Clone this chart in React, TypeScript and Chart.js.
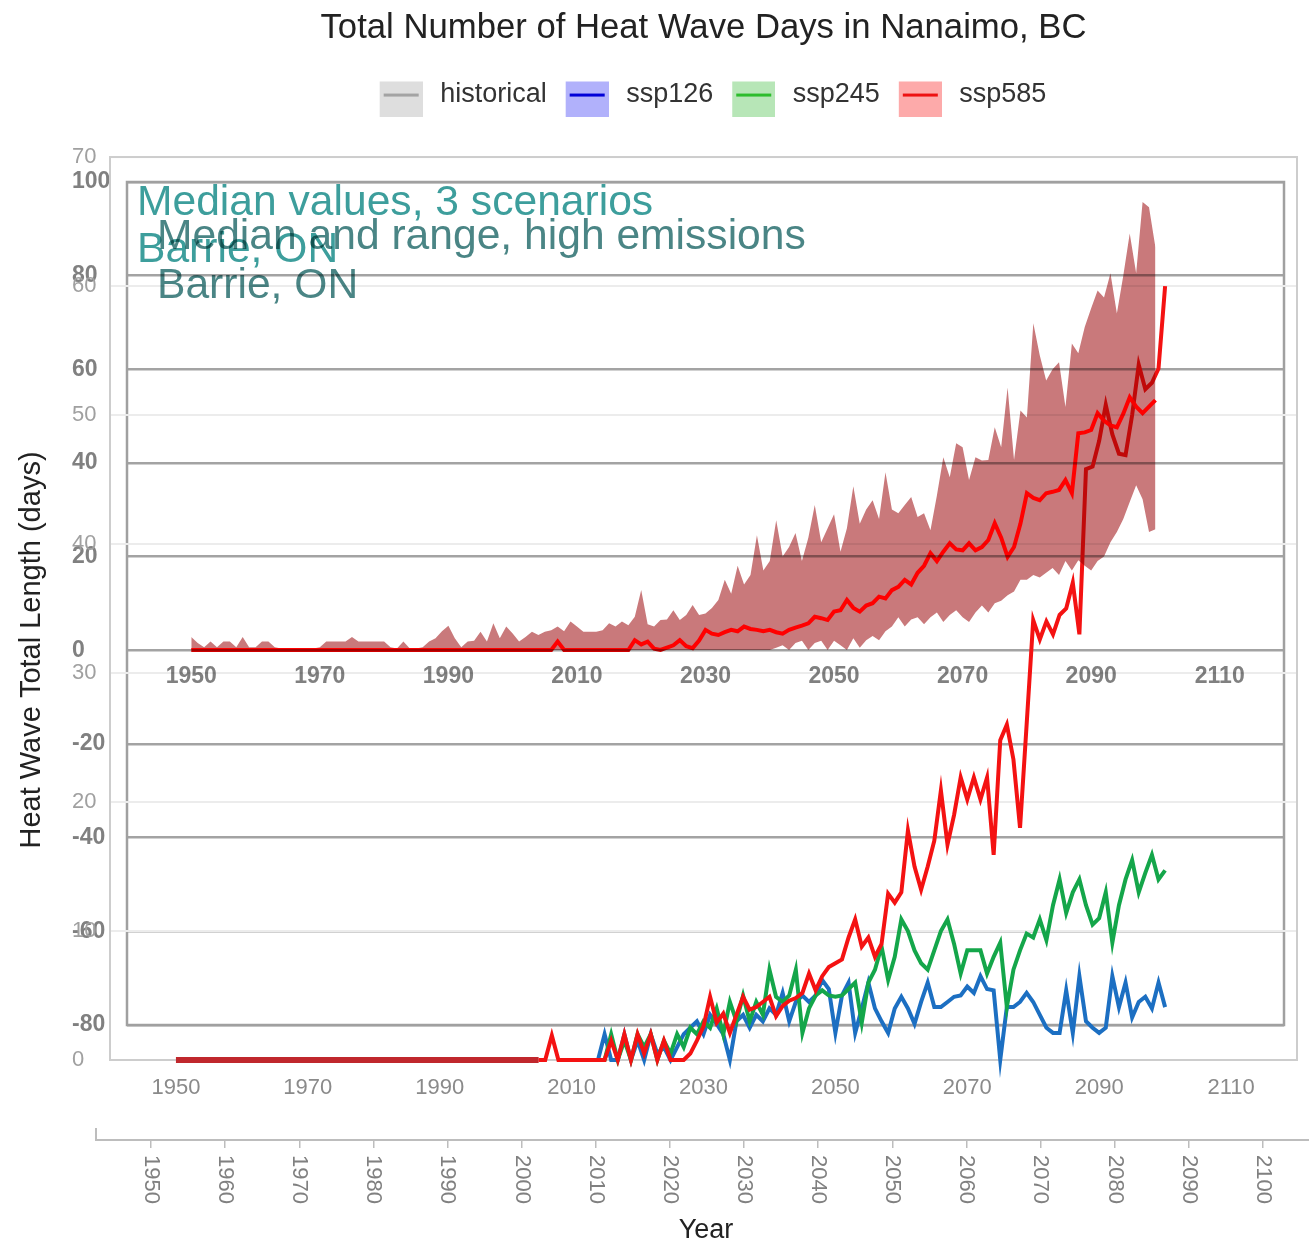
import React, { useEffect, useRef } from 'react';
import { Chart, registerables } from 'chart.js';

Chart.register(...registerables);

const FONT = "'Liberation Sans', Arial, Helvetica, sans-serif";
Chart.defaults.font.family = FONT;

// ---------- text ----------
const TITLE = 'Total Number of Heat Wave Days in Nanaimo, BC';
const Y_TITLE = 'Heat Wave Total Length (days)';
const X_TITLE = 'Year';
const TEXT_3SCEN = ['Median values, 3 scenarios', 'Barrie, ON'];
const TEXT_RANGE = ['Median and range, high emissions', 'Barrie, ON'];

// ---------- legend ----------
const LEGEND_LABELS = ['historical', 'ssp126', 'ssp245', 'ssp585'];
const LEGEND_BOX = ['#dedede', '#b1b1fb', '#b7e6b7', '#fdaaaa'];
const LEGEND_LINE = ['#a3a3a3', '#0000d8', '#2cbd2c', '#ee1111'];

// ---------- tick labels ----------
const X_TICKS_20 = [1950, 1970, 1990, 2010, 2030, 2050, 2070, 2090, 2110];
const X_TICKS_10 = [1950, 1960, 1970, 1980, 1990, 2000, 2010, 2020, 2030, 2040, 2050, 2060, 2070, 2080, 2090, 2100];

// ---------- Nanaimo medians (days) ----------
const HIST_START = 1950;
const HIST = [
  0, 0, 0, 0, 0, 0, 0, 0, 0, 0,
  0, 0, 0, 0, 0, 0, 0, 0, 0, 0,
  0, 0, 0, 0, 0, 0, 0, 0, 0, 0,
  0, 0, 0, 0, 0, 0, 0, 0, 0, 0,
  0, 0, 0, 0, 0, 0, 0, 0, 0, 0,
  0, 0, 0, 0, 0, 0,
];

const SSP585_START = 2005;
const SSP585 = [
  0, 0, 1.9, 0, 0, 0, 0, 0, 0, 0,
  0, 1.5, 0, 2, 0, 2, 0.5, 2, 0, 1.5,
  0, 0, 0, 0.5, 1.5, 2.6, 4.9, 2.9, 3.6, 2.1,
  3.5, 4.9, 3.9, 4.1, 4.5, 4.9, 3.4, 4.2, 4.6, 4.8,
  5.2, 6.7, 5.4, 6.5, 7.2, 7.5, 7.8, 9.5, 10.9, 8.8,
  9.5, 8, 9, 12.9, 12.2, 13, 17.8, 15, 13.2, 15,
  17, 20.9, 16.7, 19, 21.9, 20.2, 21.9, 20.2, 21.9, 15.9,
  24.8, 26, 23.3, 18, 26, 34.1, 32.6, 34, 33, 34.5,
  35, 37, 33, 45.8, 46, 48, 50.8, 48.5, 47, 46.9,
  50, 53.9, 52, 52.5, 53.6, 60,
];

const SSP_START = 2014;
const SSP126 = [
  0,
  2, 0, 0, 2, 0, 1.5, 0, 2, 0.5, 1,
  0, 1, 2, 2.5, 3, 2, 3.5, 2.8, 2, 0,
  3, 3.5, 2.5, 3.5, 3, 4, 3.5, 5.2, 3, 4.5,
  5, 4.5, 5, 6.2, 5.5, 2.1, 5, 6, 2.1, 4,
  6, 4, 3, 2.1, 4, 4.9, 4, 2.8, 4.5, 6,
  4.1, 4.1, 4.5, 4.9, 5, 5.7, 5.2, 6.5, 5.5, 5.4,
  0, 4.1, 4.1, 4.5, 5.2, 4.5, 3.5, 2.5, 2.1, 2.1,
  5.4, 2.1, 6.5, 3, 2.5, 2.1, 2.5, 6.5, 4.1, 6,
  3.3, 4.5, 4.9, 4, 6, 4.1,
];
const SSP245 = [
  0,
  0, 2, 0, 1.5, 0, 2, 1, 2, 0, 1.5,
  0.5, 2, 1, 2.5, 2, 3, 2.5, 4, 2, 4.5,
  3, 5, 3, 4.5, 3.5, 7, 4.9, 4.5, 5, 7,
  2.1, 4, 5, 5.4, 5, 4.9, 5, 5.5, 6, 2.9,
  6, 7, 8.8, 6.2, 8, 10.9, 10, 8.5, 7.5, 7,
  8.5, 10, 10.9, 9, 6.7, 8.5, 8.5, 8.5, 6.7, 8,
  9.1, 4.1, 7, 8.5, 9.8, 9.5, 10.9, 9.3, 12, 14,
  11.4, 13, 14, 12, 10.5, 11, 13, 9.1, 12, 14,
  15.5, 13, 14.5, 15.9, 14, 14.7,
];

// ---------- Barrie, high emissions: median and range ----------
const RANGE_START = 1950;
const RANGE_LOW = [
  0, 0, 0, 0, 0, 0, 0, 0, 0, 0,
  0, 0, 0, 0, 0, 0, 0, 0, 0, 0,
  0, 0, 0, 0, 0, 0, 0, 0, 0, 0,
  0, 0, 0, 0, 0, 0, 0, 0, 0, 0,
  0, 0, 0, 0, 0, 0, 0, 0, 0, 0,
  0, 0, 0, 0, 0, 0, 0, 0, 0, 0,
  0, 0, 0, 0, 0, 0, 0, 0, 0, 0,
  0, 0, 0, 0, 0, 0, 0, 0, 0, 0,
  0, 0, 0, 0, 0, 0, 0, 0, 0, 0,
  0, 0.5, 1, 0, 1.5, 2, 0, 1.5, 2, 0,
  2, 1, 0, 2.5, 0.5, 2.1, 3, 2.1, 4, 5,
  7, 5, 6.5, 7, 5.5, 7, 8, 6, 7.5, 8.5,
  7, 6, 8, 9.5, 8, 10, 10.5, 11.7, 12.5, 15,
  15, 16, 15.5, 16.5, 17.5, 16, 19, 17, 19.2, 18,
  17, 19, 20, 23, 25.2, 28, 31.6, 35.2, 32.2, 25.2,
  25.8,
];
const RANGE_HIGH = [
  2.8, 1.5, 0.6, 1.8, 0.6, 1.8, 1.8, 0.6, 2.8, 0.6,
  0.6, 1.8, 1.8, 0.6, 0.3, 0.3, 0.3, 0.3, 0.3, 0.3,
  0.6, 1.8, 1.8, 1.8, 1.8, 2.8, 1.8, 1.8, 1.8, 1.8,
  1.8, 0.6, 0.3, 1.8, 0.3, 0.3, 0.6, 1.8, 2.5, 4,
  5.2, 2.5, 0.6, 1.8, 2, 3.9, 1.8, 5.7, 2.5, 5,
  3.5, 1.8, 2.8, 3.9, 3.2, 3.9, 4.2, 5, 4, 6.1,
  5, 3.9, 3.9, 3.9, 4.2, 5.7, 5, 6.1, 5.3, 7.1,
  12.8, 5.5, 5, 6.4, 6.5, 8.5, 6.4, 7.5, 9.6, 7.5,
  7.8, 9, 10.7, 15, 12, 18, 14, 16, 24.5, 17,
  19, 27.7, 20, 22, 25, 19, 24, 31, 23, 26,
  29, 21, 26, 35, 27, 30, 32, 28, 38, 30,
  29.2, 31, 32.7, 28.4, 29.2, 25.6, 33, 41.2, 36.9, 44.2,
  43.3, 36.3, 41.2, 40.5, 40.6, 47.6, 43.3, 56.1, 40.6, 51.2,
  49.7, 69.8, 63, 57.6, 60, 61.5, 51.9, 65.5, 63.4, 69,
  73, 76.8, 75.3, 80.5, 71.9, 80, 89, 80.5, 95.7, 94.6,
  86,
];
const RANGE_MED = [
  0, 0, 0, 0, 0, 0, 0, 0, 0, 0,
  0, 0, 0, 0, 0, 0, 0, 0, 0, 0,
  0, 0, 0, 0, 0, 0, 0, 0, 0, 0,
  0, 0, 0, 0, 0, 0, 0, 0, 0, 0,
  0, 0, 0, 0, 0, 0, 0, 0, 0, 0,
  0, 0, 0, 0, 0, 0, 0, 1.8, 0, 0,
  0, 0, 0, 0, 0, 0, 0, 0, 0, 2.1,
  1.2, 1.8, 0.3, 0, 0.5, 1, 2.1, 0.8, 0.4, 2,
  4.3, 3.5, 3.2, 3.8, 4.3, 4, 5, 4.5, 4.3, 4,
  4.3, 3.8, 3.5, 4.3, 4.8, 5.2, 5.7, 7.1, 6.8, 6.4,
  8.2, 8.5, 10.7, 9, 8.2, 9.5, 10, 11.4, 11, 12.8,
  13.5, 15, 14, 16.5, 18, 20.7, 19, 21, 22.8, 21.5,
  21.3, 22.8, 21.3, 22, 23.5, 27.1, 24, 19.9, 22, 27,
  33.5, 32.5, 32, 33.5, 33.8, 34.2, 36.3, 33.5, 46.3, 46.5,
  47, 50.6, 49, 48, 47.6, 50.5, 54, 52, 50.6, 52,
  53.4,
];

// ---------- helpers ----------
const toPoints = (start: number, values: number[]) => values.map((v, i) => ({ x: start + i, y: v }));
const setTicks = (list: number[]) => (s: any) => { s.ticks = list.map((v) => ({ value: v })); };
const asText = (v: any) => String(v);

// legend swatch: 43x43 box (drawn in the right part of a 58px wide image) with a line across
function legendIcon(box: string, line: string) {
  const c = document.createElement('canvas');
  c.width = 58; c.height = 43;
  const g = c.getContext('2d') as CanvasRenderingContext2D;
  g.fillStyle = box; g.fillRect(15, 0, 43, 43);
  g.strokeStyle = line; g.lineWidth = 3;
  g.beginPath(); g.moveTo(19, 21.5); g.lineTo(54, 21.5); g.stroke();
  return c;
}

const framePlugin = (id: string, color: string, width: number) => ({
  id,
  beforeDatasetsDraw(chart: any) {
    const { ctx, chartArea: a } = chart;
    ctx.save();
    ctx.strokeStyle = color; ctx.lineWidth = width;
    ctx.strokeRect(a.left, a.top, a.right - a.left, a.bottom - a.top);
    ctx.restore();
  },
});

const cornerTextPlugin = (id: string, lines: string[], color: string, dx: number, ys: number[]) => ({
  id,
  afterDatasetsDraw(chart: any) {
    const { ctx, chartArea: a } = chart;
    ctx.save();
    ctx.fillStyle = color; ctx.font = `42.6px ${FONT}`;
    ctx.textAlign = 'left'; ctx.textBaseline = 'middle';
    lines.forEach((t, i) => ctx.fillText(t, a.left + dx, a.top + ys[i]));
    ctx.restore();
  },
});

const rotatedLabelsPlugin = {
  id: 'rotatedLabels',
  afterDraw(chart: any) {
    const s = chart.scales.x; const ctx = chart.ctx;
    ctx.save();
    ctx.fillStyle = '#808080'; ctx.font = `22px ${FONT}`;
    ctx.textAlign = 'left'; ctx.textBaseline = 'middle';
    s.ticks.forEach((t: any) => {
      const x = s.getPixelForValue(t.value);
      ctx.save(); ctx.translate(x, s.top + 15); ctx.rotate(Math.PI / 2);
      ctx.fillText(String(t.value), 0, 0); ctx.restore();
    });
    // short stub of the y axis
    const a = chart.chartArea;
    ctx.strokeStyle = '#bdbdbd'; ctx.lineWidth = 2;
    ctx.beginPath(); ctx.moveTo(a.left, a.bottom - 12); ctx.lineTo(a.left, a.bottom); ctx.stroke();
    ctx.restore();
  },
};

export default function App() {
  const refD = useRef<HTMLCanvasElement>(null);
  const refB = useRef<HTMLCanvasElement>(null);
  const refA = useRef<HTMLCanvasElement>(null);
  const refC = useRef<HTMLCanvasElement>(null);

  useEffect(() => {
    document.body.style.margin = '0';
    const charts: any[] = [];

    // D: year axis with rotated labels + y title
    charts.push(new Chart(refD.current as any, {
      type: 'line',
      data: { datasets: [] },
      options: {
        animation: false, responsive: false,
        layout: { padding: { top: 160, right: 14, bottom: 0, left: 0 } },
        plugins: { legend: { display: false }, tooltip: { enabled: false } },
        scales: {
          x: {
            type: 'linear', min: 1942.58, max: 2107.16,
            afterBuildTicks: setTicks(X_TICKS_10),
            afterFit: (s: any) => { s.height = 104; },
            ticks: { display: false },
            grid: { display: true, drawOnChartArea: false, drawTicks: true, tickLength: 8, color: '#bdbdbd', lineWidth: 1.5 },
            border: { display: true, color: '#bdbdbd', width: 2 },
            title: { display: true, text: X_TITLE, color: '#222', font: { size: 27, lineHeight: 1 }, padding: 0 },
          },
          y: {
            min: 0, max: 1,
            ticks: { display: false },
            grid: { display: false, drawTicks: false },
            border: { display: false },
            afterFit: (s: any) => { s.width = 96; },
            title: { display: true, text: Y_TITLE, color: '#222', font: { size: 29, lineHeight: 1.2 }, padding: { top: 14.6, bottom: 0 } },
          },
        },
      } as any,
      plugins: [rotatedLabelsPlugin],
    }));

    // B: framed grid -80..100 (labels left-aligned at x=72)
    charts.push(new Chart(refB.current as any, {
      type: 'line',
      data: { datasets: [] },
      options: {
        animation: false, responsive: false,
        layout: { padding: { top: 182, right: 25, bottom: 219, left: 72 } },
        plugins: { legend: { display: false }, tooltip: { enabled: false } },
        scales: {
          x: { type: 'linear', display: false, min: 1940, max: 2120 },
          y: {
            min: -80, max: 100,
            ticks: { stepSize: 20, crossAlign: 'far', color: '#808080', font: { size: 23, weight: 'bold' } },
            grid: { color: '#a3a3a3', lineWidth: 2.5, drawTicks: false },
            border: { display: false },
            afterFit: (s: any) => { s.width = 55; },
          },
        },
      } as any,
      plugins: [framePlugin('frameB', '#a0a0a0', 2.5), cornerTextPlugin('textB', TEXT_3SCEN, '#3d9e9c', 10, [21, 68])],
    }));

    // A: Nanaimo medians
    const legendItems = LEGEND_LABELS.map((t, i) => ({
      text: t, pointStyle: legendIcon(LEGEND_BOX[i], LEGEND_LINE[i]),
      fillStyle: LEGEND_BOX[i], strokeStyle: LEGEND_LINE[i], lineWidth: 0, hidden: false, fontColor: '#333',
    }));
    charts.push(new Chart(refA.current as any, {
      type: 'line',
      data: {
        datasets: [
          { label: 'historical', data: toPoints(HIST_START, HIST), borderColor: '#c0282d', borderWidth: 6, pointRadius: 0, tension: 0, clip: false, order: 3 },
          { label: 'ssp126', data: toPoints(SSP_START, SSP126), borderColor: '#1c6fc2', borderWidth: 4, pointRadius: 0, tension: 0, clip: false, order: 2 },
          { label: 'ssp245', data: toPoints(SSP_START, SSP245), borderColor: '#14a64a', borderWidth: 4, pointRadius: 0, tension: 0, clip: false, order: 1 },
          { label: 'ssp585', data: toPoints(SSP585_START, SSP585), borderColor: '#f41212', borderWidth: 4, pointRadius: 0, tension: 0, clip: false, order: 0 },
        ],
      },
      options: {
        animation: false, responsive: false,
        layout: { padding: { top: 0, right: 12, bottom: 134, left: 72 } },
        plugins: {
          title: { display: true, text: TITLE, fullSize: false, color: '#222', font: { size: 34.7, weight: 'normal', lineHeight: 1.2 }, padding: { top: 7.6, bottom: 32.3 } },
          legend: {
            display: true, fullSize: false,
            labels: {
              usePointStyle: true, pointStyleWidth: 66, padding: 0, color: '#333', font: { size: 27 },
              generateLabels: () => legendItems,
            },
          },
          subtitle: { display: true, text: ' ', fullSize: false, weight: 500, font: { size: 10, lineHeight: 1 }, padding: { top: 0, bottom: 28.5 } },
          tooltip: { enabled: false },
        },
        scales: {
          x: {
            type: 'linear', min: 1940, max: 2120,
            afterBuildTicks: setTicks(X_TICKS_20),
            afterFit: (s: any) => { s.height = 50; },
            grid: { display: false, drawTicks: false },
            border: { display: false },
            ticks: { padding: 15, color: '#8a8a8a', font: { size: 22 }, callback: asText },
          },
          y: {
            min: 0, max: 70,
            ticks: { stepSize: 10, crossAlign: 'far', color: '#a0a0a0', font: { size: 22 } },
            grid: { color: '#ececec', lineWidth: 2, drawTicks: false },
            border: { display: false },
            afterFit: (s: any) => { s.width = 38; },
          },
        },
      } as any,
      plugins: [framePlugin('frameA', '#cdcdcd', 2)],
    }));

    // C: Barrie median and range, high emissions
    charts.push(new Chart(refC.current as any, {
      type: 'line',
      data: {
        datasets: [
          { label: 'low', data: toPoints(RANGE_START, RANGE_LOW), borderColor: 'rgba(0,0,0,0)', borderWidth: 1, pointRadius: 0, tension: 0, fill: false, order: 2 },
          { label: 'high', data: toPoints(RANGE_START, RANGE_HIGH), borderColor: 'rgba(0,0,0,0)', borderWidth: 1, pointRadius: 0, tension: 0, fill: '-1', backgroundColor: 'rgb(201,121,123)', order: 1 },
          { label: 'median', data: toPoints(RANGE_START, RANGE_MED), borderColor: '#ff0000', borderWidth: 4, pointRadius: 0, tension: 0, fill: false, clip: false, order: 0 },
        ],
      },
      options: {
        animation: false, responsive: false,
        layout: { padding: { top: 182, right: 25, bottom: 534, left: 127 } },
        plugins: { legend: { display: false }, tooltip: { enabled: false } },
        scales: {
          x: {
            type: 'linear', min: 1940, max: 2120,
            afterBuildTicks: setTicks(X_TICKS_20),
            afterFit: (s: any) => { s.height = 60; },
            grid: { display: false, drawTicks: false },
            border: { display: false },
            ticks: { padding: 12.6, color: '#808080', font: { size: 23, weight: 'bold' }, callback: asText },
          },
          y: { display: false, min: 0, max: 100 },
        },
      } as any,
      plugins: [cornerTextPlugin('textC', TEXT_RANGE, '#4a8585', 30, [55, 104])],
    }));

    return () => { charts.forEach((c) => c.destroy()); };
  }, []);

  const cs: any = { position: 'absolute', left: 0, top: 0 };
  return (
    <div style={{ position: 'relative', width: 1309, height: 1244, overflow: 'hidden', background: '#fff' }}>
      <canvas ref={refD} width={1330} height={1244} style={{ ...cs, width: 1330, height: 1244 }} />
      <canvas ref={refB} width={1309} height={1244} style={{ ...cs, width: 1309, height: 1244 }} />
      <canvas ref={refA} width={1309} height={1244} style={{ ...cs, width: 1309, height: 1244 }} />
      <canvas ref={refC} width={1309} height={1244} style={{ ...cs, width: 1309, height: 1244, mixBlendMode: 'multiply' }} />
    </div>
  );
}
